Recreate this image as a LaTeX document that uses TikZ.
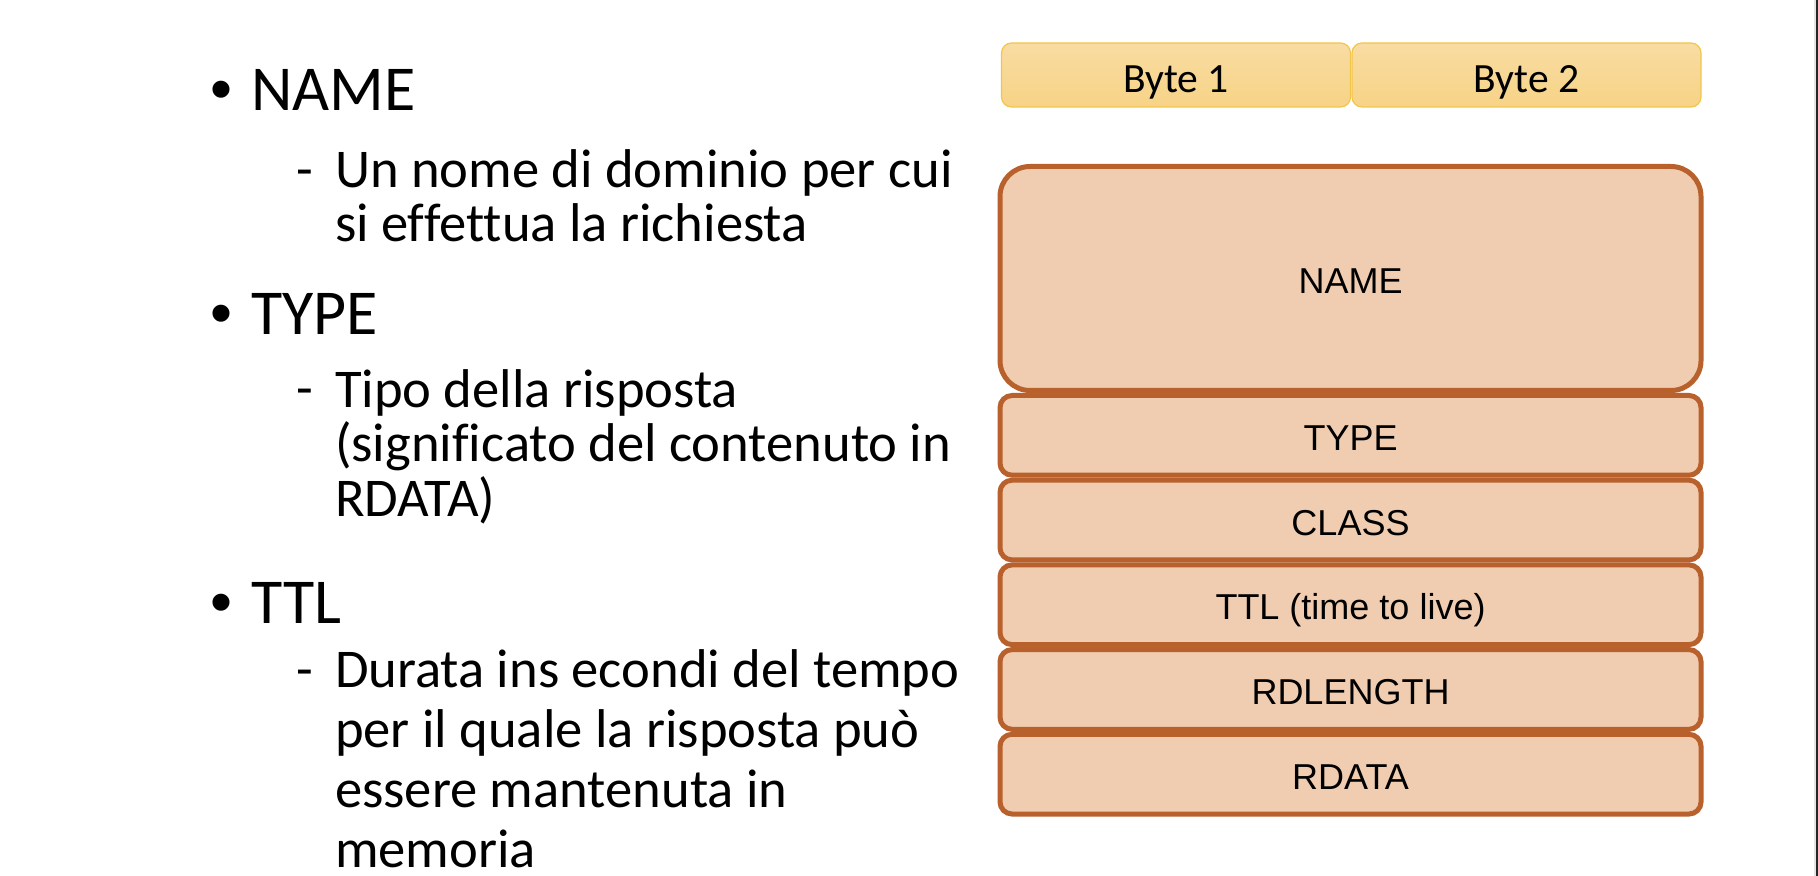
\documentclass[tikz,border=0pt]{standalone}
\usepackage{fontspec}
\setmainfont{Carlito}[Ligatures=CommonOff]
\newfontfamily\arialfont{Liberation Sans}
\usetikzlibrary{positioning}

\definecolor{fieldfill}{HTML}{F0CDB0}
\definecolor{fielddraw}{HTML}{B8612D}
\definecolor{bytetop}{HTML}{F8DCA2}
\definecolor{bytebot}{HTML}{F7D386}
\definecolor{bytedraw}{HTML}{F3C54C}

\begin{document}
\begin{tikzpicture}[x=0.5pt, y=-0.5pt,
    every node/.style={inner sep=0pt, outer sep=0pt},
    bytebox/.style={rectangle, rounded corners=5pt, draw=bytedraw, line width=0.6pt,
      top color=bytetop, bottom color=bytebot, minimum width=174.5pt, minimum height=32pt,
      text height=17.4pt, text depth=0pt, font=\fontsize{20.8}{24}\selectfont},
    field/.style={rectangle, rounded corners=6pt, draw=fielddraw, fill=fieldfill,
      line width=2.5pt, minimum width=350.5pt, minimum height=39.85pt,
      text height=15pt, text depth=0pt, font=\arialfont\fontsize{18}{21}\selectfont},
    bullet/.style={anchor=base west, font=\arialfont\fontsize{31.4}{34}\selectfont},
    head/.style={anchor=base west, font=\fontsize{32}{34}\selectfont},
    subdash/.style={anchor=base west, font=\fontsize{27.3}{28}\selectfont},
    sub/.style={anchor=base west, align=left, font=\fontsize{27.3}{27.35}\selectfont}
  ]
  \fill[white] (0,0) rectangle (1818,876);
  \useasboundingbox (0,0) rectangle (1818,876);

  % elenco a sinistra (i testi su piu righe sono ancorati all'ultima riga)
  \node[bullet] (b1) at (210,111) {•};
  \node[head] (h1) at (251,111) {NAME};
  \node[subdash] (d1) at (296,187.5) {-};
  \node[sub] (s1) at (335,242) {Un nome di dominio per cui\\si effettua la richiesta};

  \node[bullet] (b2) at (210,335) {•};
  \node[head] (h2) at (251,335) {TYPE};
  \node[subdash] (d2) at (296,407) {-};
  \node[sub] (s2) at (335,516.5) {Tipo della risposta\\(significato del contenuto in\\RDATA)};

  \node[bullet] (b3) at (210,623) {•};
  \node[head] (h3) at (251,623) {TTL};
  \node[subdash] (d3) at (296,687) {-};
  \node[sub, font=\fontsize{27.3}{30}\selectfont] (s3) at (335,867) {Durata ins econdi del tempo\\per il quale la risposta può\\essere mantenuta in\\memoria};

  % intestazione byte
  \node[bytebox] (byte1) at (1176,75) {Byte 1};
  \node[bytebox, right=0.75pt of byte1] (byte2) {Byte 2};

  % campi del record
  \node[field, minimum height=112pt, rounded corners=15pt] (name) at (1350.5,278.5) {NAME};
  \node[field, below=2.5pt of name] (type) {TYPE};
  \node[field, below=2.5pt of type] (class) {CLASS};
  \node[field, below=2.5pt of class] (ttl) {TTL (time to live)};
  \node[field, below=2.5pt of ttl] (rdlength) {RDLENGTH};
  \node[field, below=2.5pt of rdlength] (rdata) {RDATA};

  % bordo destro
  \draw[line width=1pt, black!10] (1815,0) -- (1815,876);
  \draw[line width=1pt, black!85] (1817,0) -- (1817,876);
\end{tikzpicture}
\end{document}
